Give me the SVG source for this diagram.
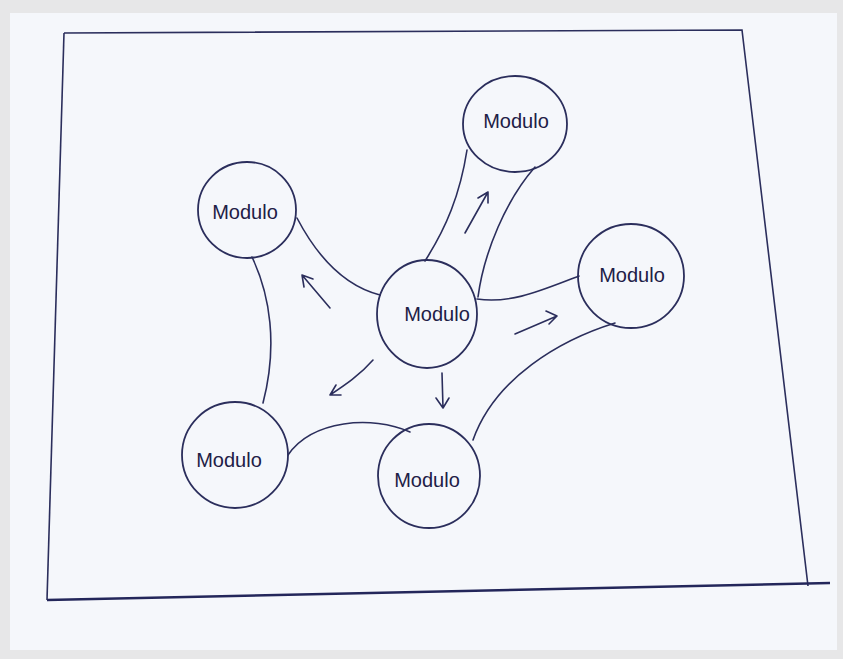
<svg xmlns="http://www.w3.org/2000/svg" width="843" height="659" viewBox="0 0 843 659">
<defs>
<style>
.ink{fill:none;stroke:#2b2e5c;stroke-width:1.6;stroke-linecap:round;stroke-linejoin:round}
.node circle,.node ellipse{fill:none;stroke:#2b2e5c;stroke-width:1.8}
.lbl{font-family:"Liberation Sans","DejaVu Sans",sans-serif;font-size:20px;fill:#1e2046;text-anchor:middle;dominant-baseline:central}
.frame{fill:none;stroke:#2b2e5c;stroke-width:1.6}
</style>
</defs>
<rect x="0" y="0" width="843" height="659" fill="#e7e7e8"/>
<rect x="10" y="13" width="827" height="637" fill="#f5f7fb"/>
<g id="frame">
<path class="frame" d="M64,33 L742,30 L808,586"/>
<path class="frame" d="M64,33 L47,600"/>
<path d="M47,600 L830,583" fill="none" stroke="#23265a" stroke-width="2.6"/>
</g>
<g id="connectors">
<path class="ink" d="M252,257 C270,295 278,345 263,403"/>
<path class="ink" d="M297,218 C318,258 345,286 380,295"/>
<path class="ink" d="M425,261 C446,228 460,195 467,150"/>
<path class="ink" d="M478,297 C484,252 506,200 535,167"/>
<path class="ink" d="M477,299 C512,304 542,290 579,276"/>
<path class="ink" d="M615,323 C560,340 495,378 473,440"/>
<path class="ink" d="M288,455 C312,420 372,415 410,432"/>
<g id="arrows">
<path class="ink" d="M330,308 L302,275 M302,275 L304,287 M302,275 L313,279"/>
<path class="ink" d="M465,233 L488,192 M488,192 L478,198 M488,192 L488,203"/>
<path class="ink" d="M515,334 L557,316 M557,316 L546,311 M557,316 L549,324"/>
<path class="ink" d="M373,360 C360,375 345,385 330,395 M330,395 L336,385 M330,395 L341,395"/>
<path class="ink" d="M442,373 L443,408 M443,408 L436,398 M443,408 L449,398"/>
</g>
</g>
<g id="node-topleft" class="node">
<ellipse cx="247" cy="210" rx="49" ry="48"/>
<text class="lbl" x="245" y="212">Modulo</text>
</g>
<g id="node-top" class="node">
<ellipse cx="515" cy="124" rx="52" ry="48"/>
<text class="lbl" x="516" y="121">Modulo</text>
</g>
<g id="node-right" class="node">
<ellipse cx="631" cy="276" rx="53" ry="52"/>
<text class="lbl" x="632" y="275">Modulo</text>
</g>
<g id="node-center" class="node">
<ellipse cx="427" cy="314" rx="50" ry="54"/>
<text class="lbl" x="437" y="314">Modulo</text>
</g>
<g id="node-bottomleft" class="node">
<ellipse cx="235" cy="455" rx="53" ry="53"/>
<text class="lbl" x="229" y="460">Modulo</text>
</g>
<g id="node-bottom" class="node">
<ellipse cx="429" cy="476" rx="51" ry="52"/>
<text class="lbl" x="427" y="480">Modulo</text>
</g>
</svg>
